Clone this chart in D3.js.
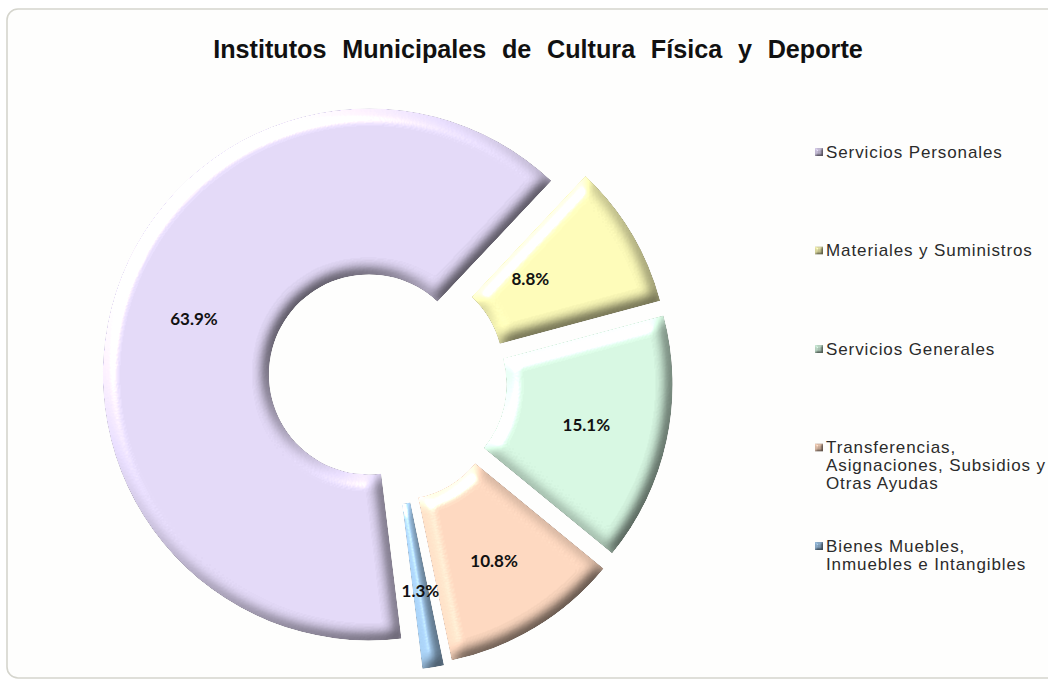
<!DOCTYPE html>
<html>
<head>
<meta charset="utf-8">
<script src="https://cdn.jsdelivr.net/npm/d3@7"></script>
<style>
  html, body { margin: 0; padding: 0; background: #ffffff; }
  svg { display: block; }
</style>
</head>
<body>
<svg id="chart" width="1048" height="681"></svg>
<script>
// ---------- data ----------
const title = "Institutos Municipales de Cultura Física y Deporte";
const categories = [
  "Servicios Personales",
  "Materiales y Suministros",
  "Servicios Generales",
  "Transferencias, Asignaciones, Subsidios y Otras Ayudas",
  "Bienes Muebles, Inmuebles e Intangibles"
];
const values = [63.9, 8.8, 15.1, 10.8, 1.3];
const legendLines = [
  ["Servicios Personales"],
  ["Materiales y Suministros"],
  ["Servicios Generales"],
  ["Transferencias,", "Asignaciones, Subsidios y", "Otras Ayudas"],
  ["Bienes Muebles,", "Inmuebles e Intangibles"]
];
const colors = ["#E0D6F4", "#FAF8B6", "#D4F4DF", "#FAD5BD", "#9DC2E3"];

// ---------- style / layout ----------
const cx = 386, cy = 380;
const outerR = 266, innerR = 100;
const startDeg = 173;
const explodeDist = [18, 20, 21, 23, 25];
const labelRadius = [184, 157, 184, 186, 187];
const labelAngleShift = [0, -4.5, 0, 0, 0];

const svg = d3.select("#chart");
const defs = svg.append("defs");

// soft round bevel lit from the top-left
function bevel(id, blur, scale, elev, ambient, specK) {
  const f = defs.append("filter").attr("id", id)
    .attr("x", "-20%").attr("y", "-20%").attr("width", "140%").attr("height", "140%")
    .attr("color-interpolation-filters", "sRGB");
  f.append("feGaussianBlur").attr("in", "SourceAlpha").attr("stdDeviation", blur).attr("result", "b");
  const d = f.append("feDiffuseLighting").attr("in", "b").attr("surfaceScale", scale)
    .attr("diffuseConstant", 1).attr("lighting-color", "#ffffff").attr("result", "diff");
  d.append("feDistantLight").attr("azimuth", 225).attr("elevation", elev);
  const s = f.append("feSpecularLighting").attr("in", "b").attr("surfaceScale", scale)
    .attr("specularConstant", 1).attr("specularExponent", 50).attr("lighting-color", "#ffffff").attr("result", "spec");
  s.append("feDistantLight").attr("azimuth", 225).attr("elevation", elev);
  const flat = Math.sin(elev * Math.PI / 180);
  f.append("feComposite").attr("in", "SourceGraphic").attr("in2", "diff").attr("operator", "arithmetic")
    .attr("k1", (1 - ambient) / flat).attr("k2", ambient).attr("k3", 0).attr("k4", 0).attr("result", "lit");
  f.append("feComposite").attr("in", "spec").attr("in2", "SourceAlpha").attr("operator", "in").attr("result", "specIn");
  f.append("feComposite").attr("in", "specIn").attr("in2", "lit").attr("operator", "arithmetic")
    .attr("k1", 0).attr("k2", specK).attr("k3", 1).attr("k4", 0).attr("result", "sum");
  f.append("feComposite").attr("in", "sum").attr("in2", "SourceAlpha").attr("operator", "in");
}
bevel("bevel", 7, 8, 45, 0.42, 0.7);
bevel("bevelSmall", 1.2, 2, 45, 0.5, 0.3);

// card
svg.append("rect")
  .attr("x", 7).attr("y", 9).attr("width", 1120).attr("height", 669)
  .attr("rx", 11).attr("ry", 11)
  .attr("fill", "#fefefd").attr("stroke", "#d5d5cd").attr("stroke-width", 1.6);

// title: condensed bold, fitted to the reference width
const titleWidth = 650, titleWordGap = 9;
const tt = svg.append("text")
  .attr("text-anchor", "middle")
  .attr("font-family", "'Liberation Sans', Arial, sans-serif")
  .attr("font-weight", "bold")
  .attr("font-size", 26)
  .attr("word-spacing", titleWordGap)
  .attr("fill", "#111")
  .text(title);
const natural = tt.node().getComputedTextLength();
tt.attr("transform", `translate(538,58) scale(${titleWidth / natural},1)`);

// pie
const pie = d3.pie().sort(null).value(d => d)
  .startAngle(startDeg * Math.PI / 180)
  .endAngle(startDeg * Math.PI / 180 + 2 * Math.PI);
const arcs = pie(values);
const arc = d3.arc().innerRadius(innerR).outerRadius(outerR);

function offset(a, dist, shiftDeg) {
  const mid = (a.startAngle + a.endAngle) / 2 + (shiftDeg || 0) * Math.PI / 180;
  return [dist * Math.sin(mid), -dist * Math.cos(mid)];
}

const g = svg.append("g").attr("transform", `translate(${cx},${cy})`);
g.selectAll("path.slice").data(arcs).enter().append("path")
  .attr("class", "slice")
  .attr("transform", (d, i) => { const o = offset(d, explodeDist[i]); return `translate(${o[0]},${o[1]})`; })
  .attr("d", arc)
  .attr("fill", (d, i) => colors[i])
  .attr("filter", "url(#bevel)");

g.selectAll("text.lbl").data(arcs).enter().append("text")
  .attr("class", "lbl")
  .attr("transform", (d, i) => {
    const o = offset(d, explodeDist[i] + labelRadius[i], labelAngleShift[i]);
    return `translate(${o[0]},${o[1]})`;
  })
  .attr("text-anchor", "middle")
  .attr("dy", "0.45em")
  .attr("font-family", "Lato, 'Open Sans', sans-serif")
  .attr("font-weight", "bold")
  .attr("font-size", 17)
  .attr("fill", "#111")
  .text(d => d3.format(".1f")(d.data) + "%");

// legend
const legendY = d3.scalePoint().domain(categories).range([152, 546]);
const lineH = 18;
const lg = svg.append("g");
categories.forEach((c, i) => {
  const y0 = legendY(c);
  lg.append("rect")
    .attr("x", 815).attr("y", y0 - 4).attr("width", 8).attr("height", 8)
    .attr("fill", d3.color(colors[i]).darker(0.7))
    .attr("filter", "url(#bevelSmall)");
  const t = lg.append("text")
    .attr("font-family", "'Liberation Sans', Arial, sans-serif")
    .attr("font-size", 17)
    .attr("letter-spacing", 0.9)
    .attr("fill", "#2b2b2b");
  legendLines[i].forEach((line, k) => {
    t.append("tspan").attr("x", 826).attr("y", y0 + k * lineH).attr("dy", "0.35em").text(line);
  });
});
</script>
</body>
</html>
